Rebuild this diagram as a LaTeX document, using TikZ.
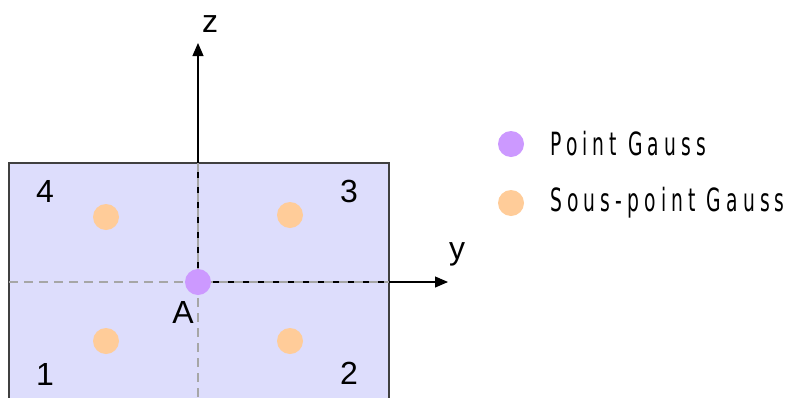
\documentclass[tikz,border=0pt]{standalone}
\usepackage{fontspec}
\setmainfont{Liberation Sans}
\newfontfamily\legendfont[FakeStretch=0.65, LetterSpace=16]{DejaVu Sans Condensed}
\usetikzlibrary{arrows.meta}
\usetikzlibrary{positioning}
\definecolor{sectfill}{HTML}{DDDDFC}
\definecolor{gausspurple}{HTML}{CC99FF}
\definecolor{souspeach}{HTML}{FFCC99}
\tikzstyle{section} = [draw=black!75, fill=sectfill, line width=1.2pt]
\tikzstyle{gausspt} = [circle, fill=gausspurple, inner sep=0pt, minimum size=26pt]
\tikzstyle{souspt} = [circle, fill=souspeach, inner sep=0pt, minimum size=26pt]
\tikzstyle{axis} = [line width=1.1pt, -{Triangle[length=13pt,width=11pt]}]
\tikzstyle{guide} = [black!35, line width=2.6pt, dash pattern=on 9pt off 6pt]
\tikzstyle{lbl} = [font=\fontsize{32}{32}\selectfont]
\tikzstyle{legtext} = [anchor=west, font=\legendfont\fontsize{32}{32}\selectfont]

\begin{document}
\begin{tikzpicture}[x=1pt, y=-1pt]
\useasboundingbox (0,0) rectangle (790,397);

% section and axes
\draw [section] (9,163) rectangle (389,410);
\coordinate (ztip) at (198,43);
\coordinate (ytip) at (448,282);
\coordinate (gtop) at (198,163);
\coordinate (gbot) at (198,400);
\coordinate (gleft) at (9,282);
\coordinate (gright) at (389,282);
\coordinate (origin) at (198,282);
\draw [axis] (origin) -- (ztip);
\draw [axis] (origin) -- (ytip);
\draw [guide] (gtop) -- (gbot);
\draw [guide] (gleft) -- (gright);

\node [souspt] (s4) at (106,217) {};
\node [souspt] (s3) at (290,215) {};
\node [souspt] (s1) at (106,341) {};
\node [souspt] (s2) at (290,341) {};
\node [gausspt] (A) at (origin) {};

\node [lbl] (zlab) at (210,24) {z};
\node [lbl] (ylab) at (457,254) {y};
\node [lbl] (alab) at (183,312) {A};
\node [lbl] (n4) at (45,191) {4};
\node [lbl] (n3) at (349,191) {3};
\node [lbl] (n1) at (45,374) {1};
\node [lbl] (n2) at (349,373) {2};

% legend
\node [gausspt] (legA) at (511,144) {};
\node [souspt] (legS) at (511,203) {};
\node [legtext, right=26pt of legA, inner sep=0pt] (legAtext) {Point Gauss};
\node [legtext, right=26pt of legS, inner sep=0pt] (legStext) {Sous-point Gauss};

\end{tikzpicture}
\end{document}
